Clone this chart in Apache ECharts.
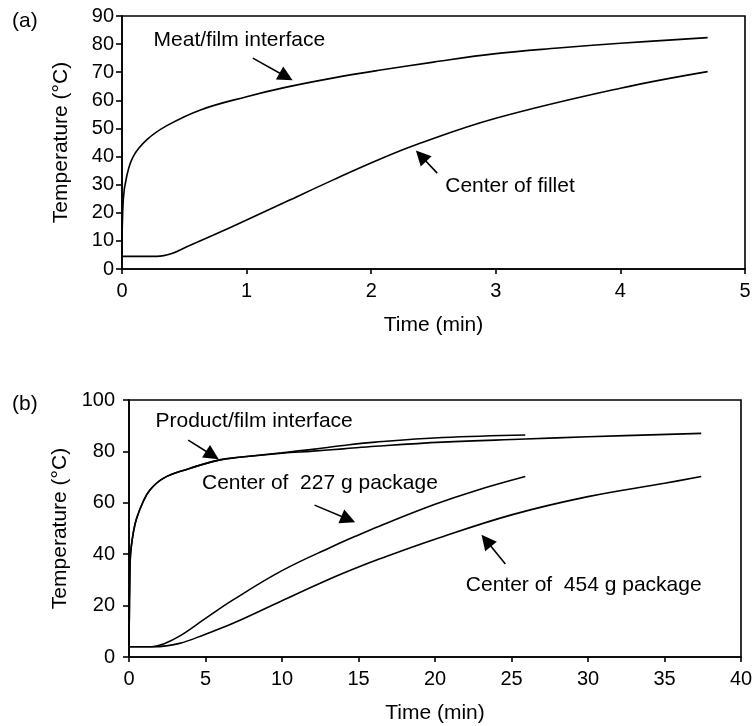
<!DOCTYPE html>
<html>
<head>
<meta charset="utf-8">
<script src="https://cdn.jsdelivr.net/npm/echarts@6/dist/echarts.min.js"></script>
<style>
  html, body { margin: 0; padding: 0; background: #fff; }
  #chart { width: 756px; height: 726px; }
</style>
</head>
<body>
<div id="chart"></div>
<script>
// ---- Panel (a): fillet heating ----
const aTicksX = [0, 1, 2, 3, 4, 5];
const aTicksY = [0, 10, 20, 30, 40, 50, 60, 70, 80, 90];

const meatFilmTime = [0, 0.01, 0.037, 0.09, 0.2, 0.36, 0.63, 1.0, 1.32, 1.7, 2.05, 2.5, 3.0, 3.5, 4.0, 4.7];
const meatFilmTemp = [4.5, 24.6, 32.8, 40, 46, 51, 56.6, 61.3, 64.7, 68.0, 70.6, 73.6, 76.6, 78.6, 80.3, 82.3];

const filletTime = [0, 0.28, 0.4, 0.52, 0.73, 1.0, 1.32, 1.7, 2.04, 2.36, 3.0, 4.0, 4.7];
const filletTemp = [4.5, 4.5, 5.5, 7.9, 12, 17.4, 24.0, 31.8, 38.5, 44.2, 53.6, 64.3, 70.2];

// ---- Panel (b): packaged product heating ----
const bTicksX = [0, 5, 10, 15, 20, 25, 30, 35, 40];
const bTicksY = [0, 20, 40, 60, 80, 100];

const film227Time = [0, 0.05, 0.1, 0.3, 0.5, 0.93, 1.37, 2.24, 3.76, 5.94, 7.2, 10, 12, 14, 16.1, 20.5, 25.9];
const film227Temp = [4, 30, 40, 49, 54, 60.5, 65, 69.5, 73, 76.7, 77.7, 79.5, 80.8, 82.3, 83.6, 85.4, 86.4];

const film454Time = [0, 0.05, 0.1, 0.3, 0.5, 0.93, 1.37, 2.24, 3.76, 5.94, 7.2, 10, 12, 14, 16.1, 20.5, 25.9, 30, 37.4];
const film454Temp = [4, 30, 40, 49, 54, 60.5, 65, 69.5, 73, 76.7, 77.7, 79.3, 80.1, 81.0, 82.0, 83.6, 84.8, 85.7, 87.0];

const center227Time = [0, 1.5, 2.3, 3.33, 5, 6.8, 10, 13.3, 15, 16.4, 20, 22.7, 25.9];
const center227Temp = [4, 4, 5.2, 8.2, 15, 22.2, 33.6, 43.0, 47.5, 51.0, 59.4, 64.8, 70.2];

const center454Time = [0, 1.6, 3.3, 5, 6.8, 10, 13.3, 15, 16.4, 20, 25, 30, 35, 37.4];
const center454Temp = [4, 4, 5.3, 8.9, 13.1, 21.9, 30.8, 35.0, 38.2, 45.8, 55.3, 62.4, 67.6, 70.2];

// Callout labels and pointer arrows, in data units of their panel
const aNotes = [
  { text: 'Meat/film interface', at: [0.249, 81.5], from: [1.05, 75.0], to: [1.317, 68.4] },
  { text: 'Center of fillet', at: [2.59, 29.3], from: [2.53, 34.1], to: [2.40, 40.2] }
];
const bNotes = [
  { text: 'Product/film interface', at: [1.70, 91.6], from: [3.87, 84.4], to: [5.45, 78.5] },
  { text: 'Center of  227 g package', at: [4.74, 67.6], from: [12.13, 59.1], to: [14.33, 53.6] },
  { text: 'Center of  454 g package', at: [21.98, 28.0], from: [24.6, 36.2], to: [23.35, 45.3] }
];

const FONT = 'Liberation Sans, Arial, Helvetica, sans-serif';
const zip = (xs, ys) => xs.map((x, i) => [x, ys[i]]);

function curve(xs, ys, idx, notes) {
  const s = {
    type: 'line',
    xAxisIndex: idx,
    yAxisIndex: idx,
    data: zip(xs, ys),
    showSymbol: false,
    smooth: 0.4,
    lineStyle: { color: '#000', width: 1.6 },
    itemStyle: { color: '#000' },
    silent: true,
    animation: false
  };
  if (notes) {
    s.markLine = {
      silent: true,
      animation: false,
      symbol: ['none', 'triangle'],
      symbolSize: [15, 15],
      label: { show: false },
      lineStyle: { color: '#000', width: 1.6, type: 'solid' },
      emphasis: { disabled: true },
      data: notes.map(n => [{ coord: n.from }, { coord: n.to }])
    };
    s.markPoint = {
      silent: true,
      animation: false,
      symbol: 'circle',
      symbolSize: 1,
      itemStyle: { color: 'rgba(0,0,0,0)' },
      label: {
        show: true,
        position: 'right',
        distance: 0,
        color: '#000',
        fontFamily: FONT,
        fontSize: 21
      },
      data: notes.map(n => ({ coord: n.at, label: { formatter: n.text } }))
    };
  }
  return s;
}

function xAxis(idx, ticks, margin) {
  return {
    type: 'value',
    gridIndex: idx,
    min: ticks[0],
    max: ticks[ticks.length - 1],
    interval: ticks[1] - ticks[0],
    name: 'Time (min)',
    nameLocation: 'middle',
    nameGap: 46,
    nameTextStyle: { color: '#000', fontFamily: FONT, fontSize: 21 },
    axisLine: { show: true, onZero: false, lineStyle: { color: '#000', width: 1.6 } },
    axisTick: { show: true, length: 5, lineStyle: { color: '#000', width: 1.6 } },
    axisLabel: { color: '#000', fontFamily: FONT, fontSize: 20, margin: margin },
    splitLine: { show: false }
  };
}

function yAxis(idx, ticks, gap, margin) {
  return {
    type: 'value',
    gridIndex: idx,
    min: ticks[0],
    max: ticks[ticks.length - 1],
    interval: ticks[1] - ticks[0],
    name: 'Temperature (°C)',
    nameLocation: 'middle',
    nameGap: gap,
    nameTextStyle: { color: '#000', fontFamily: FONT, fontSize: 21 },
    axisLine: { show: true, onZero: false, lineStyle: { color: '#000', width: 1.6 } },
    axisTick: { show: true, length: 6, lineStyle: { color: '#000', width: 1.6 } },
    axisLabel: { color: '#000', fontFamily: FONT, fontSize: 20, margin: margin },
    splitLine: { show: false }
  };
}

const chart = echarts.init(document.getElementById('chart'), null, { renderer: 'canvas' });

chart.setOption({
  backgroundColor: '#fff',
  animation: false,
  title: [
    { text: '(a)', left: 7, top: 6, textStyle: { color: '#000', fontFamily: FONT, fontSize: 21, fontWeight: 'normal' } },
    { text: '(b)', left: 7, top: 389, textStyle: { color: '#000', fontFamily: FONT, fontSize: 21, fontWeight: 'normal' } }
  ],
  grid: [
    { left: 122, top: 16, width: 623, height: 253, show: true, borderColor: '#000', borderWidth: 1.6, backgroundColor: 'transparent' },
    { left: 129, top: 400, width: 612, height: 257, show: true, borderColor: '#000', borderWidth: 1.6, backgroundColor: 'transparent' }
  ],
  xAxis: [xAxis(0, aTicksX, 12), xAxis(1, bTicksX, 12)],
  yAxis: [yAxis(0, aTicksY, 50, 8), yAxis(1, bTicksY, 57, 14)],
  series: [
    curve(meatFilmTime, meatFilmTemp, 0, [aNotes[0]]),
    curve(filletTime, filletTemp, 0, [aNotes[1]]),
    curve(film227Time, film227Temp, 1, [bNotes[0]]),
    curve(film454Time, film454Temp, 1, null),
    curve(center227Time, center227Temp, 1, [bNotes[1]]),
    curve(center454Time, center454Temp, 1, [bNotes[2]])
  ]
});
</script>
</body>
</html>
